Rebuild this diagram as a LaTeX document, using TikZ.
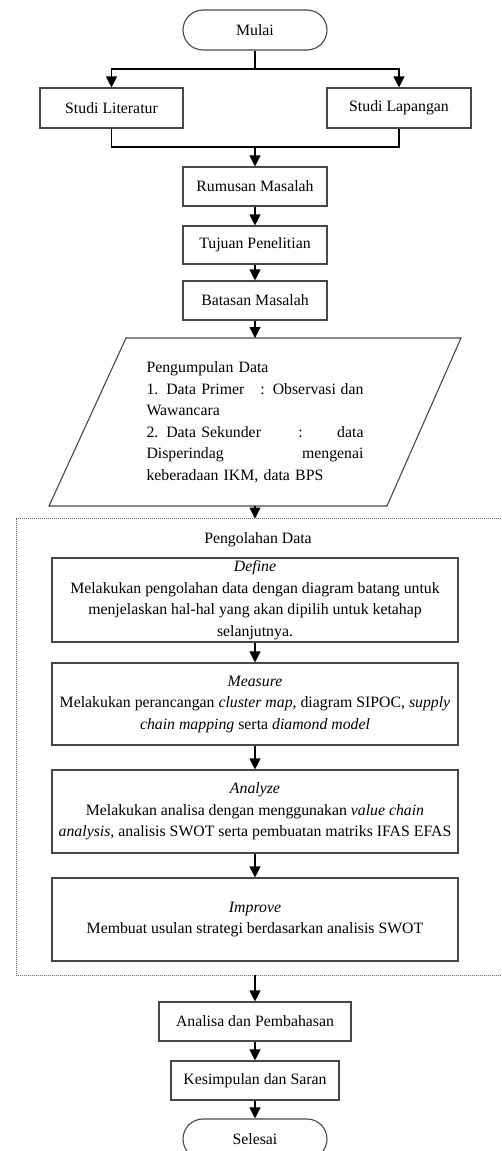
\documentclass[tikz,border=0pt]{standalone}
\usepackage{fontspec}
\setmainfont{Liberation Serif}
\usetikzlibrary{arrows.meta,calc}
\newcommand\myfs{\fontsize{15.8}{21.5}\selectfont}
\begin{document}
\begin{tikzpicture}[x=1pt,y=-1pt,
  boxline/.style={draw=black!72, line width=1.1pt},
  box/.style={boxline, minimum height=39pt, inner sep=0pt, align=center, font=\myfs},
  term/.style={box, rounded corners=20pt, minimum width=144pt, minimum height=40pt},
  arr/.style={-{Triangle[width=11pt,length=11pt]}, line width=1.1pt, draw=black},
  ln/.style={line width=1.1pt, draw=black},
  dotbox/.style={draw=black!60, line width=0.9pt, dash pattern=on 1pt off 1pt}]
\path[use as bounding box, clip] (0,0) rectangle (501,1151);
\fill[white] (0,0) rectangle (501,1151);

% top part
\node[term] (mulai) at (255,30) {Mulai};
\node[box, minimum width=143pt, minimum height=40pt] (lit) at (111.5,108) {Studi Literatur};
\node[box, minimum width=144pt, minimum height=40pt] (lap) at (399,108) {Studi Lapangan};
\node[box, minimum width=144pt] (rum) at (255,186.5) {Rumusan Masalah};
\node[box, minimum width=144pt, minimum height=38pt] (tuj) at (255,245) {Tujuan Penelitian};
\node[box, minimum width=144pt] (bat) at (255,300.5) {Batasan Masalah};

% parallelogram
\coordinate (pTL) at (126,338);
\coordinate (pTR) at (461,338);
\coordinate (pBR) at (387,506);
\coordinate (pBL) at (49,506);
\coordinate (pTop) at (255,338);
\coordinate (pBot) at (255,506);
\draw[boxline] (pTL) -- (pTR) -- (pBR) -- (pBL) -- cycle;
\node[font=\myfs, text width=217pt, align=left, inner sep=0pt] (pdata) at (255,422)
 {Pengumpulan Data\\
  \makebox[114pt][l]{1. Data Primer}: Observasi\hfill dan\\
  Wawancara\\
  \makebox[152pt][l]{2. Data Sekunder}:\hfill data\\
  Disperindag\hfill mengenai\\
  keberadaan IKM, data BPS};

% dotted group
\draw[dotbox] (16,518.5) rectangle (530,975);
\coordinate (dTop) at (255,518.5);
\coordinate (dBot) at (255,975);
\node[font=\myfs, inner sep=0pt] (pol) at (258,540) {Pengolahan Data};

\node[box, minimum width=406pt, minimum height=84pt] (def) at (255,600)
 {\textit{Define}\\
  Melakukan pengolahan data dengan diagram batang untuk\\
  menjelaskan hal-hal yang akan dipilih untuk ketahap\\
  selanjutnya.};
\node[box, minimum width=406pt, minimum height=82pt] (mea) at (255,704)
 {\textit{Measure}\\
  Melakukan perancangan \textit{cluster map}, diagram SIPOC, \textit{supply}\\
  \textit{chain mapping} serta \textit{diamond model}};
\node[box, minimum width=406pt, minimum height=83pt] (ana) at (255,811.5)
 {\textit{Analyze}\\
  Melakukan analisa dengan menggunakan \textit{value chain}\\
  \textit{analysis,} analisis SWOT serta pembuatan matriks IFAS EFAS};
\node[box, minimum width=406pt, minimum height=83pt] (imp) at (255,919.5)
 {\textit{Improve}\\
  Membuat usulan strategi berdasarkan analisis SWOT};

% bottom part
\node[box, minimum width=192pt] (anp) at (255,1021.5) {Analisa dan Pembahasan};
\node[box, minimum width=168pt] (kes) at (255,1080.5) {Kesimpulan dan Saran};
\node[term] (sel) at (255,1139) {Selesai};

% connectors
\coordinate (split) at (255,69);
\coordinate (join) at (255,147);
\draw[ln] (mulai.south) -- (split);
\draw[arr] (split) -| (lit.north);
\draw[arr] (split) -| (lap.north);
\draw[ln] (lit.south) |- (join);
\draw[ln] (lap.south) |- (join);
\draw[arr] (join) -- (rum.north);
\draw[arr] (rum) -- (tuj);
\draw[arr] (tuj) -- (bat);
\draw[arr] (bat) -- (pTop);
\draw[arr] (pBot) -- (dTop);
\draw[arr] (def) -- (mea);
\draw[arr] (mea) -- (ana);
\draw[arr] (ana) -- (imp);
\draw[arr] (dBot) -- (anp.north);
\draw[arr] (anp) -- (kes);
\draw[arr] (kes) -- (sel);
\end{tikzpicture}
\end{document}
